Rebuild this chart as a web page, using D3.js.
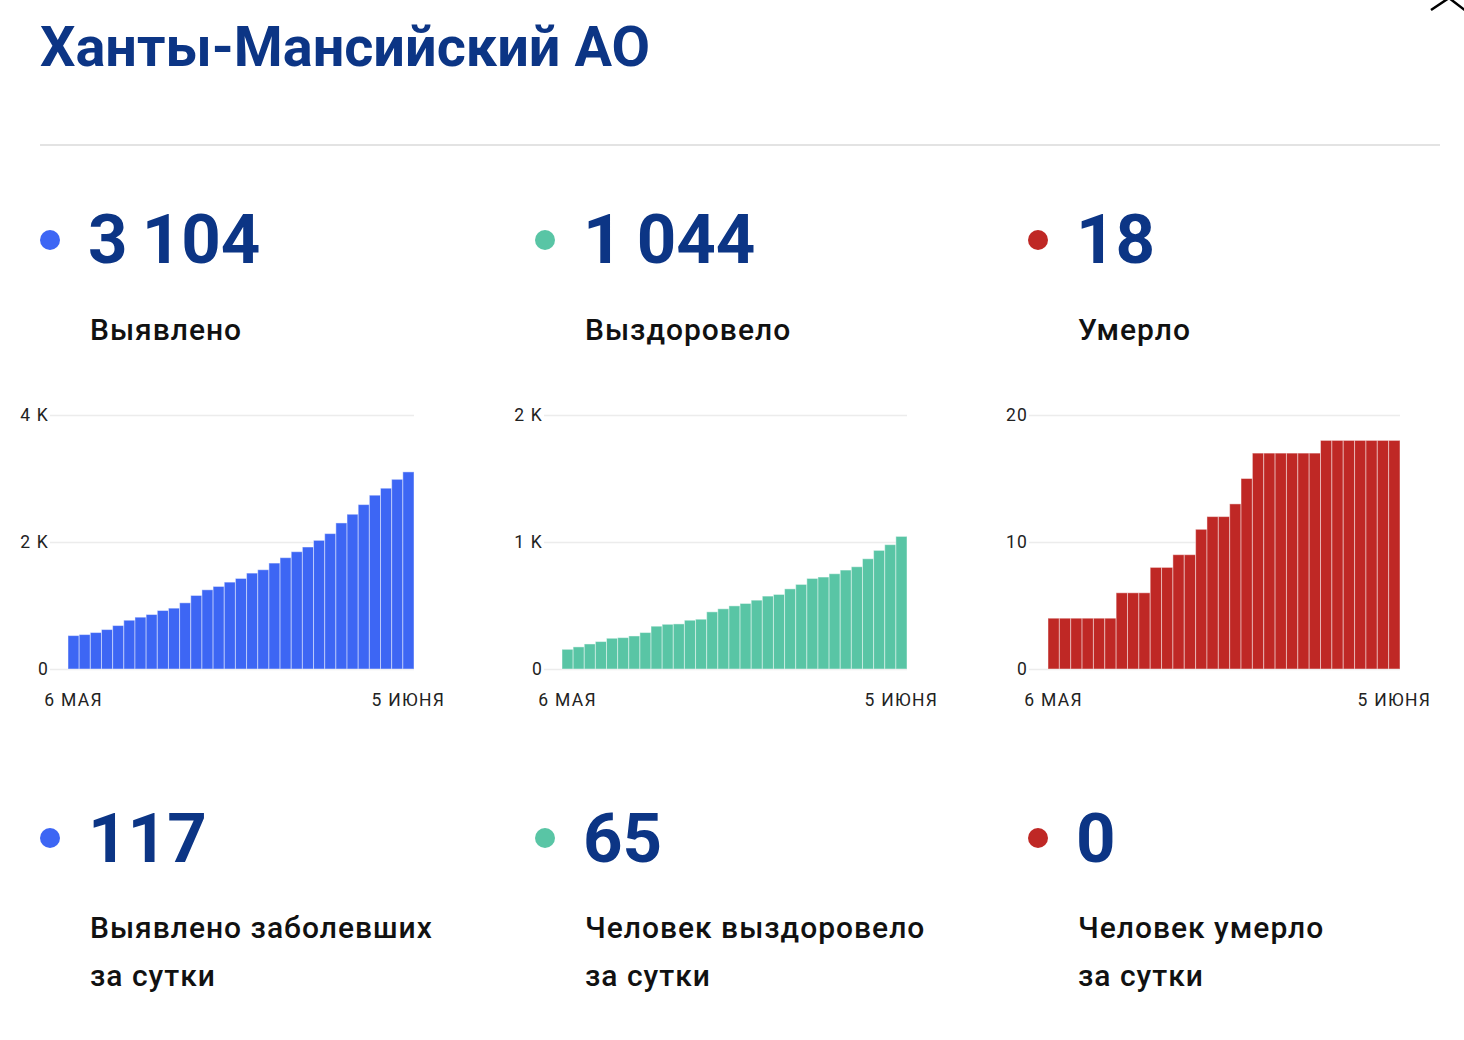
<!DOCTYPE html>
<html>
<head>
<meta charset="utf-8">
<script src="https://cdn.jsdelivr.net/npm/d3@7"></script>
<style>
	body { margin: 0; background: #fff; }
	text { font-family: Roboto, "Noto Sans", sans-serif; }
	.title { font-weight: 700; fill: #0c3585; }
	.bigNum { font-weight: 700; fill: #0c3585; }
	.metricLabel { font-weight: 500; fill: #111; letter-spacing: 1px; }
	.xLabel { font-size: 17.5px; fill: #222; letter-spacing: 1.3px; }
	.tick line { stroke: #ececec; stroke-width: 1.5; }
</style>
</head>
<body>
<svg id="chart" width="1464" height="1040"></svg>
<script>
// 6 May .. 5 June
const dates = [
	"06.05", "07.05", "08.05", "09.05", "10.05", "11.05", "12.05", "13.05", "14.05", "15.05",
	"16.05", "17.05", "18.05", "19.05", "20.05", "21.05", "22.05", "23.05", "24.05", "25.05",
	"26.05", "27.05", "28.05", "29.05", "30.05", "31.05", "01.06", "02.06", "03.06", "04.06", "05.06"
];

const confirmed = [
	526, 542, 574, 621, 684, 768, 816, 858, 921, 958,
	1042, 1158, 1247, 1300, 1368, 1426, 1510, 1563, 1668, 1753,
	1847, 1921, 2026, 2132, 2300, 2437, 2589, 2737, 2847, 2987, 3104
];

const recovered = [
	155, 174, 197, 216, 242, 247, 260, 287, 337, 352,
	355, 384, 392, 450, 474, 497, 516, 542, 574, 587,
	631, 666, 713, 724, 750, 779, 805, 868, 934, 979, 1044
];

const deaths = [
	4, 4, 4, 4, 4, 4, 6, 6, 6, 8,
	8, 9, 9, 11, 12, 12, 13, 15, 17, 17,
	17, 17, 17, 17, 18, 18, 18, 18, 18, 18, 18
];

const totals = [3104, 1044, 18];
const dailyValues = [117, 65, 0];
const totalLabels = ["Выявлено", "Выздоровело", "Умерло"];
const dailyLabels = [
	["Выявлено заболевших", "за сутки"],
	["Человек выздоровело", "за сутки"],
	["Человек умерло", "за сутки"]
];
const yTicks = [[0, 2000, 4000], [0, 1000, 2000], [0, 10, 20]];
const xTickLabels = ["6 МАЯ", "5 ИЮНЯ"];
const seriesColors = ["#3d66f4", "#59c5a5", "#bf2825"];

const series = [confirmed, recovered, deaths];

// layout of the three columns
const colX = [90, 585, 1078];
const chartLayout = [
	{ gridLeft: 50, barLeft: 68, barRight: 414 },
	{ gridLeft: 544, barLeft: 562, barRight: 907 },
	{ gridLeft: 1029, barLeft: 1048, barRight: 1400 }
];
const chartTop = 415, chartBottom = 669;

const svg = d3.select("#chart");

// title + rule
svg.append("text")
	.attr("class", "title")
	.attr("x", 40)
	.attr("y", 66)
	.attr("font-size", 56)
	.attr("textLength", 610)
	.attr("lengthAdjust", "spacingAndGlyphs")
	.text("Ханты-Мансийский АО");

svg.append("line")
	.attr("x1", 40).attr("x2", 1440)
	.attr("y1", 145).attr("y2", 145)
	.attr("stroke", "#e3e3e3")
	.attr("stroke-width", 2);

// close icon, cut off at the top
svg.append("path")
	.attr("d", "M1431,10 L1449,-2 L1466,11")
	.attr("fill", "none")
	.attr("stroke", "#000")
	.attr("stroke-width", 2.5);

function fmtNum(v) {
	return d3.format(",")(v).replace(/,/g, "\u2009");
}

function tickFmt(d) {
	return d >= 1000 ? (d / 1000) + " K" : d;
}

series.forEach((data, i) => {
	const g = svg.append("g").attr("class", "column");
	const x0 = colX[i];
	const lay = chartLayout[i];

	// headline number
	g.append("circle")
		.attr("cx", x0 - 40).attr("cy", 240).attr("r", 10)
		.attr("fill", seriesColors[i]);
	g.append("text")
		.attr("class", "bigNum")
		.attr("x", x0 - 2).attr("y", 263)
		.attr("font-size", 69)
		.text(fmtNum(totals[i]));
	g.append("text")
		.attr("class", "metricLabel")
		.attr("x", x0).attr("y", 340)
		.attr("font-size", 30)
		.text(totalLabels[i]);

	// bar chart
	const x = d3.scaleBand()
		.domain(dates)
		.range([lay.barLeft, lay.barRight])
		.padding(0);

	const y = d3.scaleLinear()
		.domain([yTicks[i][0], yTicks[i][2]])
		.range([chartBottom, chartTop]);

	const yAxis = d3.axisLeft(y)
		.tickValues(yTicks[i])
		.tickFormat(tickFmt)
		.tickSizeInner(-(lay.barRight - lay.gridLeft))
		.tickSizeOuter(0)
		.tickPadding(1);

	g.append("g")
		.attr("transform", `translate(${lay.gridLeft},0)`)
		.call(yAxis)
		.call(a => a.select(".domain").remove())
		.call(a => a.selectAll(".tick text")
			.attr("font-size", 17.5)
			.attr("font-family", "Roboto")
			.attr("letter-spacing", "1.2px")
			.attr("fill", "#222"));

	g.append("g").selectAll("rect")
		.data(data)
		.join("rect")
		.attr("x", (d, k) => x(dates[k]))
		.attr("width", x.bandwidth())
		.attr("y", d => y(d))
		.attr("height", d => y(0) - y(d))
		.attr("fill", seriesColors[i])
		.attr("stroke", "rgba(255,255,255,0.45)")
		.attr("stroke-width", 1);

	// first and last date labels
	const ends = [dates[0], dates[dates.length - 1]];
	g.selectAll(".xLabel")
		.data(ends)
		.join("text")
		.attr("class", "xLabel")
		.attr("x", d => x(d) + x.bandwidth() / 2)
		.attr("y", 706)
		.attr("text-anchor", "middle")
		.text((d, k) => xTickLabels[k]);

	// daily numbers
	g.append("circle")
		.attr("cx", x0 - 40).attr("cy", 838).attr("r", 10)
		.attr("fill", seriesColors[i]);
	g.append("text")
		.attr("class", "bigNum")
		.attr("x", x0 - 2).attr("y", 862)
		.attr("font-size", 69)
		.text(fmtNum(dailyValues[i]));
	g.append("text")
		.attr("class", "metricLabel")
		.attr("font-size", 30)
		.selectAll("tspan")
		.data(dailyLabels[i])
		.join("tspan")
		.attr("x", x0)
		.attr("y", (d, k) => 938 + k * 48)
		.text(d => d);
});
</script>
</body>
</html>
